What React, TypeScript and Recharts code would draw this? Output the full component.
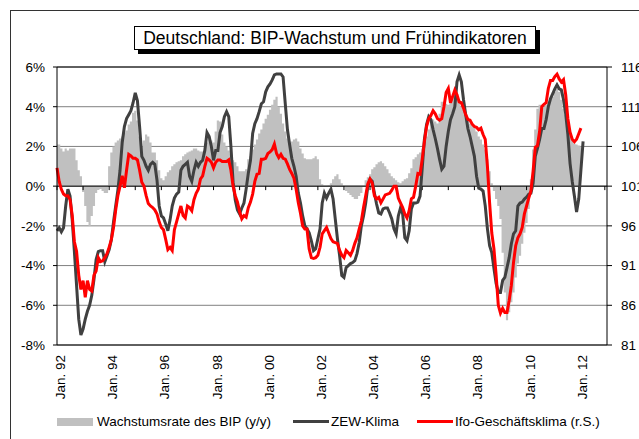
import {
  Area,
  ComposedChart,
  CartesianGrid,
  Legend,
  Line,
  ReferenceLine,
  XAxis,
  YAxis,
} from "recharts";

const FONT = '"Liberation Sans", Arial, sans-serif';

// monthly values from Jan. 92, one row per year
const gdpGrowth = [
  2.1, 2.1, 1.9, 1.75, 1.9, 1.8, 1.9, 1.9, 1.9, 1.3, 0.8, 0.5,
  -0.3, -1.0, -1.8, -2.0, -1.5, -1.0, -0.35, -0.2, -0.15, -0.25, -0.35, -0.35,
  1.0, 1.7, 2.0, 2.2, 2.3, 2.4, 2.5, 2.7, 2.8, 3.1, 3.25, 3.7,
  3.8, 3.3, 2.5, 2.0, 2.3, 2.6, 2.5, 2.2, 1.7, 1.7, 1.3, 0.8,
  0.4, 0.3, 0.5, 0.7, 0.8, 1.0, 1.1, 1.2, 1.25, 1.3, 1.5, 1.6,
  1.7, 1.75, 1.8, 1.9, 1.9, 1.8, 1.75, 1.75, 1.8, 2.2, 2.4, 2.3,
  2.2, 2.75, 3.3, 3.25, 2.6, 2.2, 2.0, 1.8, 1.6, 1.3, 1.2, 1.0,
  0.75, 0.75, 0.75, 0.85, 1.35, 1.5, 1.85, 2.1, 2.35, 2.65, 2.85, 3.15,
  3.4, 3.6, 3.85, 4.1, 4.35, 4.5, 4.0, 3.65, 3.15, 2.75, 2.4, 2.15,
  2.25, 2.35, 2.4, 2.25, 1.9, 1.65, 1.4, 1.35, 1.35, 1.35, 1.4, 1.5,
  1.35, 0.35, 0.1, 0, 0, 0.05, 0.15, 0.35, 0.5, 0.6, 0.35, 0.15,
  0, -0.25, -0.35, -0.45, -0.55, -0.65, -0.65, -0.5, -0.35, 0, 0.3, 0.45,
  0.6, 0.85, 0.95, 1.1, 1.2, 1.25, 1.15, 1.0, 0.85, 0.65, 0.5, 0.4,
  0.3, 0.2, 0.15, 0.25, 0.35, 0.4, 0.65, 0.9, 1.35, 1.45, 1.6, 1.7,
  1.9, 2.25, 2.5, 2.85, 3.25, 3.35, 3.25, 3.15, 3.65, 4.25, 4.25, 4.15,
  4.1, 4.25, 4.5, 4.75, 4.65, 4.35, 4.0, 3.85, 3.6, 3.35, 3.15, 3.1,
  3.0, 2.75, 2.5, 2.35, 2.1, 1.85, 1.35, 0.75, 0.15, -0.25, -0.65, -1.0,
  -1.65, -3.35, -5.35, -6.75, -6.35, -5.85, -5.35, -4.6, -3.9, -3.5, -2.9, -2.35,
  -1.85, -1.15, 0.35, 1.85, 2.85, 3.9, 4.1, 4.1, 4.0, 4.1, 4.25, 4.4,
  4.5, 4.75, 4.9, 4.75, 4.35, 3.9, 3.6, 3.25, 2.75, 2.35, 2.15, 2.1,
  2.05, 2.0,
];

const zewKlima = [
  -2.25, -2.1, -2.3, -2.1, -1.0, -0.15, -0.5, -1.7, -3.3, -5.0, -6.7, -7.5,
  -7.2, -6.7, -6.3, -6.0, -5.5, -4.7, -3.7, -3.3, -3.25, -3.25, -3.8, -3.5,
  -3.2, -2.7, -1.8, -1.0, -0.2, 0.8, 2.2, 3.0, 3.4, 3.6, 3.8, 4.2,
  4.7, 4.3, 3.0, 1.5, 1.3, 1.0, 0.8, 1.1, 1.2, 1.1, 0.3, -1.0,
  -1.5, -1.6, -1.9, -2.25, -1.7, -1.0, -0.6, -0.4, -0.3, 0.8, 1.0, 1.1,
  1.2, 0.5, 0.25, 0.8, 1.2, 1.0, 1.2, 1.3, 1.8, 2.7, 2.5, 2.0,
  1.3, 1.8, 1.8, 2.7, 3.0, 3.5, 3.75, 3.5, 2.0, 0.2, -0.7, -1.2,
  -1.4, -1.1, -0.85, -0.15, 0.65, 1.3, 2.65, 3.15, 3.4, 3.75, 4.15, 4.25,
  4.75, 5.0, 5.15, 5.35, 5.6, 5.65, 5.65, 5.65, 5.5, 4.15, 2.85, 2.1,
  1.4, 1.0, 0.5, -0.35, -0.85, -1.5, -2.0, -2.15, -2.35, -2.75, -3.25, -3.15,
  -2.65, -2.15, -0.85, -0.35, -0.6, -0.35, -0.15, -0.65, -1.65, -2.65, -3.5, -4.5,
  -4.6, -4.1, -4.0, -3.9, -3.85, -3.75, -3.4, -2.85, -2.0, -1.5, -0.85, 0,
  0.35, 0.25, -0.35, -0.9, -1.35, -1.4, -1.15, -1.1, -1.1, -1.35, -1.65, -2.15,
  -2.4, -1.5, -1.1, -1.4, -2.6, -2.75, -2.25, -1.15, -0.85, -0.85, -0.8, -0.5,
  0.9, 2.35, 3.1, 3.5, 3.35, 2.85, 2.4, 1.9, 1.35, 0.85, 1.0, 2.0,
  2.75, 3.35, 3.65, 4.0, 5.25, 5.6, 5.25, 4.35, 3.6, 2.9, 2.5, 2.0,
  1.5, 0.5, -0.1, -0.15, -0.25, -1.0, -2.15, -3.0, -3.35, -4.15, -4.9, -5.35,
  -5.35, -4.75, -4.6, -4.1, -3.6, -2.9, -2.4, -2.25, -1.0, -0.85, -0.8, -0.65,
  -0.55, -0.4, -0.35, 0.15, 1.5, 1.9, 2.35, 2.9, 2.9, 3.35, 4.0, 4.4,
  4.65, 4.9, 5.1, 4.9, 4.85, 4.35, 3.65, 2.6, 1.15, 0.25, -0.5, -1.3,
  -0.65, 0.8, 2.25,
];

const ifoKlima = [
  103.3, 101.6, 100.6, 100.0, 99.8, 99.8, 99.3, 97.3, 94.0, 92.8, 89.8, 88.0,
  89.1, 87.0, 89.1, 88.0, 87.8, 89.8, 90.3, 92.0, 91.5, 91.6, 92.0, 92.5,
  93.3, 94.3, 95.8, 98.0, 99.8, 101.0, 102.3, 100.8, 103.0, 105.0, 104.8, 104.5,
  104.5, 104.3, 103.0, 101.5, 101.0, 99.8, 98.8, 98.5, 98.3, 98.0, 97.5, 96.5,
  95.8, 95.5, 94.3, 93.0, 93.3, 92.9, 95.5, 96.5, 97.5, 98.5, 97.3, 97.0,
  98.5, 98.3, 97.9, 99.3, 100.1, 100.6, 101.9, 102.3, 103.5, 104.5, 104.3, 104.0,
  103.3, 104.0, 104.3, 104.3, 104.1, 104.1, 104.1, 104.3, 103.0, 101.0, 99.8, 99.0,
  97.8, 96.9, 97.3, 97.1, 98.3, 99.0, 100.0, 101.6, 102.5, 102.6, 104.4, 104.4,
  104.5, 105.1, 105.3, 105.6, 106.3, 105.1, 104.6, 105.0, 104.5, 104.4, 103.8, 103.1,
  102.6, 102.0, 100.6, 98.9, 97.6, 96.0, 95.6, 95.6, 93.1, 92.0, 91.9, 92.0,
  92.3, 93.3, 95.0, 95.4, 95.8, 95.1, 94.4, 94.0, 93.9, 93.8, 92.9, 92.3,
  92.0, 92.9, 92.6, 92.3, 92.9, 93.8, 94.5, 95.6, 96.6, 98.3, 99.8, 101.3,
  101.9, 101.4, 99.8, 99.4, 99.6, 98.9, 99.4, 99.9, 100.0, 100.1, 100.5, 101.0,
  101.0, 99.5, 98.9, 98.3, 97.5, 97.0, 97.9, 99.4, 99.6, 101.0, 102.6, 102.5,
  104.4, 106.6, 108.5, 109.5, 109.9, 110.5, 110.1, 109.5, 109.3, 109.5, 111.0, 112.8,
  113.3, 111.5, 112.3, 113.1, 112.5, 111.6, 111.5, 110.8, 110.0, 109.4, 109.3, 108.8,
  108.5, 108.4, 108.1, 108.3, 107.5, 106.9, 103.5, 98.9, 95.1, 93.1, 89.8, 86.0,
  85.0, 85.6, 85.1, 85.1, 86.6, 88.5, 91.4, 93.5, 94.5, 95.0, 95.8, 97.5,
  98.5, 99.5, 100.4, 102.9, 105.9, 106.1, 107.9, 111.0, 111.3, 111.5, 113.3, 114.3,
  114.3, 114.8, 115.1, 114.5, 114.1, 114.4, 112.5, 109.5, 107.8, 106.9, 106.6, 106.9,
  107.6, 108.3,
];

const xTickLabels = [
  "Jan. 92", "Jan. 94", "Jan. 96", "Jan. 98", "Jan. 00", "Jan. 02",
  "Jan. 04", "Jan. 06", "Jan. 08", "Jan. 10", "Jan. 12",
];
const leftTicks = [-8, -6, -4, -2, 0, 2, 4, 6];
const rightTicks = [81, 86, 91, 96, 101, 106, 111, 116];

const MONTHS_SHOWN = 253;
const labelTicks = xTickLabels.map((_, i) => i * 24);
const yearTicks = Array.from({ length: 22 }, (_, i) => i * 12);

const rowCount = Math.max(gdpGrowth.length, zewKlima.length, ifoKlima.length);
const rows = Array.from({ length: rowCount }, (_, m) => ({
  m,
  gdp: gdpGrowth[m],
  zew: zewKlima[m],
  ifo: ifoKlima[m],
}));

const legendItems = [
  { label: "Wachstumsrate des BIP (y/y)", color: "#c0c0c0", thick: 8, left: 57, gap: 4 },
  { label: "ZEW-Klima", color: "#404040", thick: 3, left: 293, gap: 2 },
  { label: "Ifo-Geschäftsklima (r.S.)", color: "#ff0000", thick: 3, left: 417, gap: 2 },
];

function MonthTick({ x, y, payload }: any) {
  const label = xTickLabels[labelTicks.indexOf(payload.value)] ?? "";
  const bx = x + 8;
  return (
    <text
      x={bx}
      y={y}
      transform={`rotate(-90 ${bx} ${y})`}
      textAnchor="end"
      fontSize={13.5}
      fontFamily={FONT}
      fill="#000"
    >
      {label}
    </text>
  );
}

function ChartLegend() {
  return (
    <div
      style={{
        position: "relative",
        height: 17,
        fontFamily: FONT,
        fontSize: 13.5,
        color: "#000",
        whiteSpace: "nowrap",
      }}
    >
      {legendItems.map((item) => (
        <div
          key={item.label}
          style={{
            position: "absolute",
            left: item.left,
            top: 0,
            height: 17,
            display: "flex",
            alignItems: "center",
          }}
        >
          <span
            style={{
              display: "inline-block",
              width: 36,
              height: item.thick,
              background: item.color,
              marginRight: item.gap,
            }}
          />
          <span>{item.label}</span>
        </div>
      ))}
    </div>
  );
}

export default function App() {
  const axisTick = { fontSize: 13.5, fill: "#000", fontFamily: FONT };

  return (
    <div
      style={{
        position: "absolute",
        left: 0,
        top: 0,
        width: 639,
        height: 439,
        overflow: "hidden",
        background: "#fff",
        fontFamily: FONT,
      }}
    >
      <div
        style={{
          position: "absolute",
          left: 10,
          top: 10,
          width: 660,
          height: 460,
          border: "1px solid #333",
        }}
      />
      <ComposedChart
        width={639}
        height={439}
        data={rows}
        margin={{ top: 67, right: 0, bottom: 0, left: 0 }}
        style={{ position: "absolute", left: 0, top: 0 }}
      >
        <CartesianGrid yAxisId="left" vertical={false} stroke="#808080" />
        <XAxis
          dataKey="m"
          type="number"
          domain={[0, MONTHS_SHOWN]}
          ticks={labelTicks}
          interval={0}
          height={94}
          tickSize={0}
          tickMargin={10}
          tickLine={false}
          axisLine={{ stroke: "#000" }}
          tick={<MonthTick />}
        />
        <YAxis
          yAxisId="left"
          domain={[-8, 6]}
          ticks={leftTicks}
          interval={0}
          width={57}
          tickSize={4}
          tickMargin={8}
          tickFormatter={(v) => `${v}%`}
          axisLine={{ stroke: "#000" }}
          tickLine={{ stroke: "#000" }}
          tick={axisTick}
        />
        <YAxis
          yAxisId="right"
          orientation="right"
          domain={[81, 116]}
          ticks={rightTicks}
          interval={0}
          width={32}
          tickSize={5}
          tickMargin={9}
          axisLine={{ stroke: "#000" }}
          tickLine={{ stroke: "#000" }}
          tick={{ ...axisTick, textAnchor: "start" }}
        />
        <Area
          yAxisId="left"
          dataKey="gdp"
          type="step"
          baseValue={0}
          stroke="none"
          fill="#c0c0c0"
          fillOpacity={1}
          isAnimationActive={false}
        />
        <ReferenceLine yAxisId="left" y={6} stroke="#000" />
        <ReferenceLine yAxisId="left" y={0} stroke="#000" />
        {yearTicks.map((m) => (
          <ReferenceLine
            key={m}
            yAxisId="left"
            segment={[
              { x: m, y: 0 },
              { x: m, y: -0.2 },
            ]}
            stroke="#000"
          />
        ))}
        <Line
          yAxisId="left"
          dataKey="zew"
          stroke="#404040"
          strokeWidth={3}
          dot={false}
          activeDot={false}
          isAnimationActive={false}
        />
        <Line
          yAxisId="right"
          dataKey="ifo"
          stroke="#ff0000"
          strokeWidth={3}
          dot={false}
          activeDot={false}
          isAnimationActive={false}
        />
        <Legend
          verticalAlign="middle"
          align="center"
          wrapperStyle={{ left: 0, top: 413, width: 639 }}
          content={() => <ChartLegend />}
        />
      </ComposedChart>
      <div
        style={{
          position: "absolute",
          left: 134,
          top: 26,
          width: 402,
          height: 24,
          boxSizing: "border-box",
          border: "1px solid #000",
          background: "#fff",
          boxShadow: "4px 4px 0 #000",
          fontSize: 17.5,
          lineHeight: "22px",
          textAlign: "center",
          color: "#000",
        }}
      >
        Deutschland: BIP-Wachstum und Frühindikatoren
      </div>
    </div>
  );
}
